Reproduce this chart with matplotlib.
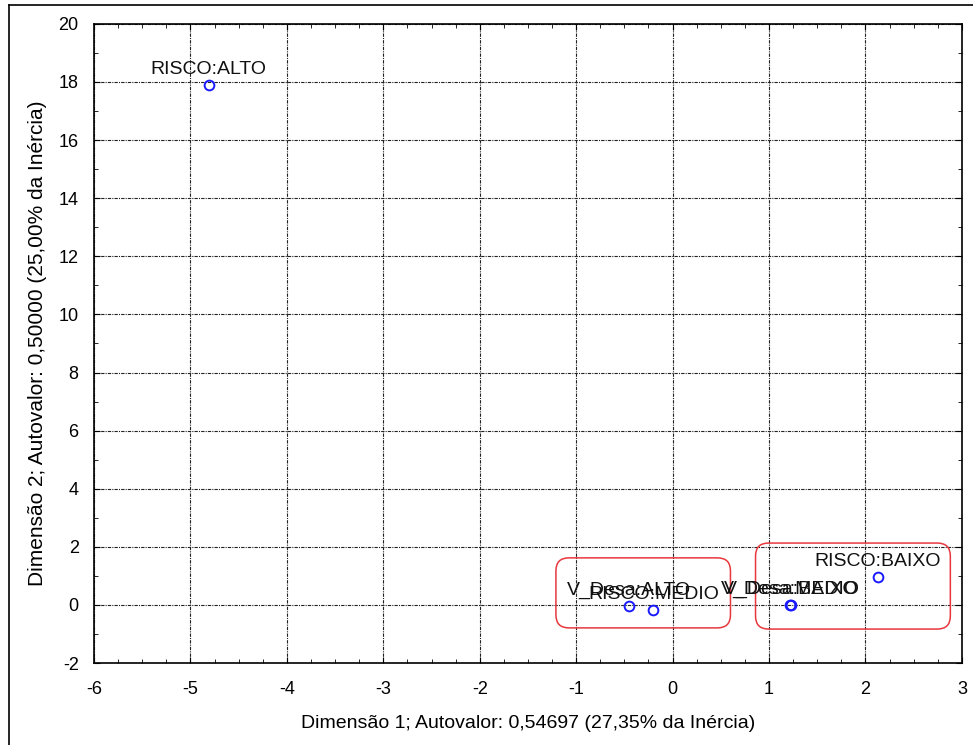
import numpy as np
import matplotlib.pyplot as plt
from matplotlib.patches import FancyBboxPatch
from matplotlib.ticker import MultipleLocator

plt.rcParams['font.family'] = ['Liberation Sans', 'DejaVu Sans']
plt.rcParams['axes.unicode_minus'] = False

# ----------------------------
# Data (correspondence analysis coordinates)
# ----------------------------
labels = ['RISCO:ALTO', 'V_Desa:ALTO', 'RISCO:MEDIO',
          'V_Desa:MEDIO', 'V_Desa:BAIXO', 'RISCO:BAIXO']
dim1 = [-4.81, -0.45, -0.20, 1.22, 1.23, 2.13]
dim2 = [17.90, -0.03, -0.17, 0.01, -0.01, 0.96]

# highlighted groups: (x0, x1, y0, y1)
groups = [
    (-1.21, 0.60, -0.79, 1.62),
    (0.86, 2.88, -0.83, 2.13),
]

xlabel = "Dimensão 1; Autovalor: 0,54697 (27,35% da Inércia)"
ylabel = "Dimensão 2; Autovalor: 0,50000 (25,00% da Inércia)"

# ----------------------------
# Plot
# ----------------------------
fig = plt.figure(figsize=(9.73, 7.45), dpi=100)
ax = fig.add_axes([0.0966, 0.110, 0.892, 0.858])

ax.plot(dim1, dim2, 'o', mfc='none', mec='#1a1aff', ms=7, mew=1.4,
        zorder=3)

for lab, x, y in zip(labels, dim1, dim2):
    ax.annotate(lab, (x, y), xytext=(0, 5), textcoords='offset points',
                ha='center', va='bottom', fontsize=14, color='#111111')

ax.set_xlim(-6, 3)
ax.set_ylim(-2, 20)

# rounded boxes, rounding corrected for the axis aspect
xpx = ax.get_position().width * fig.get_figwidth() * fig.dpi / 9
ypx = ax.get_position().height * fig.get_figheight() * fig.dpi / 22
r = 13 / xpx
for x0, x1, y0, y1 in groups:
    box = FancyBboxPatch((x0, y0), x1 - x0, y1 - y0,
                         boxstyle=f"round,pad=0,rounding_size={r}",
                         mutation_aspect=xpx / ypx,
                         fill=False, ec='#e8383d', lw=1.1, zorder=2)
    ax.add_patch(box)

ax.xaxis.set_major_locator(MultipleLocator(1))
ax.xaxis.set_minor_locator(MultipleLocator(0.25))
ax.yaxis.set_major_locator(MultipleLocator(2))
ax.yaxis.set_minor_locator(MultipleLocator(1))

ax.tick_params(which='both', direction='in', top=True, right=True,
               labelsize=13, colors='black')
ax.tick_params(which='major', length=4)
ax.tick_params(axis='x', which='major', pad=13)
ax.tick_params(axis='y', which='major', pad=11)
ax.tick_params(which='minor', length=3)

ax.grid(True, which='major', color='#222222', lw=0.8,
        linestyle=(0, (3, 1, 1, 1)))

for s in ax.spines.values():
    s.set_linewidth(1.2)

ax.set_xlabel(xlabel, fontsize=14, labelpad=12)
ax.set_ylabel(ylabel, fontsize=15, labelpad=8)

# outer frame lines (top and left)
fig.add_artist(plt.Line2D([0.009, 1.0], [0.993, 0.993], color='black',
                          lw=1.2, transform=fig.transFigure))
fig.add_artist(plt.Line2D([0.009, 0.009], [0.0, 0.993], color='black',
                          lw=1.2, transform=fig.transFigure))

fig.savefig('out.png', dpi=100)
